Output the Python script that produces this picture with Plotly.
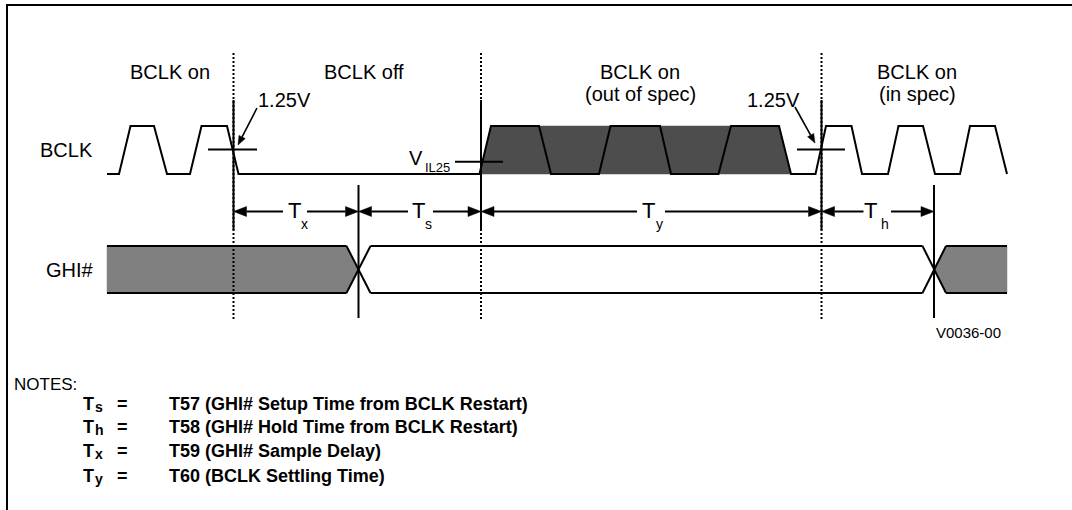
import math
import plotly.graph_objects as go

FONT = "Liberation Sans, Arial, Helvetica, sans-serif"
W, H = 1072, 510

# ---- signal levels (diagram y, top = 0) ----
BCLK_HIGH, BCLK_LOW = 126, 174
GHI_HIGH, GHI_LOW = 246, 293

# ---- BCLK waveform: edge positions and logic level (1 = high, 0 = low) ----
bclk_x = [107, 119, 130.5, 154, 167, 190, 201.5, 227, 238.5, 479.5, 491, 539, 551, 599,
          610.5, 660, 671, 718.5, 731, 779, 791, 815.5, 826, 851.5, 862, 888, 898.5,
          923, 935, 960, 970, 995, 1007]
bclk_lvl = [0, 0, 1, 1, 0, 0, 1, 1, 0, 0, 1, 1, 0, 0,
            1, 1, 0, 0, 1, 1, 0, 0, 1, 1, 0, 0, 1,
            1, 0, 0, 1, 1, 0]

# out-of-spec (shaded) BCLK region
oos_x = [479.5, 491, 779, 791]
oos_lvl = [0, 1, 1, 0]

# ---- GHI# bus ----
ghi_left_x = [107, 346.5, 358.5, 346.5, 107]
ghi_left_lvl = [1, 1, 0.5, 0, 0]
ghi_right_x = [946, 1007, 1007, 946, 934]
ghi_right_lvl = [1, 1, 0, 0, 0.5]
ghi_rail_segments = [(107, 346.5), (370.5, 922.5), (946, 1007)]
ghi_cross = [(346.5, 370.5), (922.5, 946)]

# ---- reference lines ----
phase_bounds = [233.5, 481, 821.5]          # dotted phase boundaries
ghi_edges = [358.5, 934]                    # GHI# transition markers

# ---- timing dimensions ----
dim_names = ["x", "s", "y", "h"]
dim_start = [233.5, 358.5, 481, 821.5]
dim_end = [358.5, 481, 821.5, 934]
dim_gap_l = [283, 408, 637, 863.5]
dim_gap_r = [307, 433, 665, 891]
dim_T_x = [294, 418, 648, 870.5]
dim_sub_x = [304.5, 428, 659, 884.5]
DIM_Y = 211.5

# ---- thresholds ----
thr_x0 = [208, 455, 797]
thr_x1 = [257, 503, 845]
thr_y = [149.5, 161.7, 149.5]

# ---- 1.25V pointer arrows (tail -> head) ----
ptr_tail = [(257, 108), (795, 107)]
ptr_head = [(238, 145), (815, 143)]

# ---- text ----
phase_labels = ["BCLK on", "BCLK off", "BCLK on", "(out of spec)", "BCLK on", "(in spec)"]
phase_label_x = [170, 364, 640, 640, 917, 917]
phase_label_y = [72, 72, 72, 94, 72, 94]

note_syms = ["s", "h", "x", "y"]
note_texts = ["T57 (GHI# Setup Time from BCLK Restart)",
              "T58 (GHI# Hold Time from BCLK Restart)",
              "T59 (GHI# Sample Delay)",
              "T60 (BCLK Settling Time)"]
note_y = [404, 427, 451, 476]


def by(l):
    return BCLK_LOW + (BCLK_HIGH - BCLK_LOW) * l


def gy(l):
    return GHI_LOW + (GHI_HIGH - GHI_LOW) * l


fig = go.Figure()
BLACK = "black"


def line(xs, ys, width=2, dash=None, color=BLACK):
    fig.add_trace(go.Scatter(x=xs, y=ys, mode="lines",
                             line=dict(color=color, width=width, dash=dash),
                             hoverinfo="skip", showlegend=False))


def poly(xs, ys, fill):
    fig.add_trace(go.Scatter(x=list(xs) + [xs[0]], y=list(ys) + [ys[0]], mode="lines",
                             fill="toself", fillcolor=fill, line=dict(width=0.5, color=fill),
                             hoverinfo="skip", showlegend=False))


# frame
line([7, 7, 1072], [510, 5, 5], width=2)

# shaded regions
poly(oos_x, [by(l) for l in oos_lvl], "#4d4d4d")
poly(ghi_left_x, [gy(l) for l in ghi_left_lvl], "#808080")
poly(ghi_right_x, [gy(l) for l in ghi_right_lvl], "#808080")

# dotted phase boundaries + solid reference portions
for xb in phase_bounds:
    line([xb, xb], [53, 320], width=2, dash="2px,2px")
    line([xb, xb], [100, 230], width=2)
for xe in ghi_edges:
    line([xe, xe], [185, 318], width=2)

# BCLK waveform
line(bclk_x, [by(l) for l in bclk_lvl], width=2)

# GHI# rails and crossings
for a, b in ghi_rail_segments:
    line([a, b], [GHI_HIGH, GHI_HIGH])
    line([a, b], [GHI_LOW, GHI_LOW])
for a, b in ghi_cross:
    line([a, b], [GHI_HIGH, GHI_LOW])
    line([a, b], [GHI_LOW, GHI_HIGH])

# thresholds
for a, b, yy in zip(thr_x0, thr_x1, thr_y):
    line([a, b], [yy, yy])

# dimension arrows
HL, HW = 13, 5
for x0, x1, gl, gr in zip(dim_start, dim_end, dim_gap_l, dim_gap_r):
    poly([x0, x0 + HL, x0 + HL], [DIM_Y, DIM_Y - HW, DIM_Y + HW], BLACK)
    poly([x1, x1 - HL, x1 - HL], [DIM_Y, DIM_Y - HW, DIM_Y + HW], BLACK)
    line([x0 + HL, gl], [DIM_Y, DIM_Y])
    line([gr, x1 - HL], [DIM_Y, DIM_Y])

# 1.25V pointers
PL, PW = 9, 3.5
for (tx_, ty_), (hx, hy) in zip(ptr_tail, ptr_head):
    dx, dy = hx - tx_, hy - ty_
    d = math.hypot(dx, dy)
    ux, uy = dx / d, dy / d
    bx, by_ = hx - ux * PL, hy - uy * PL
    line([tx_, bx], [ty_, by_], width=1.6)
    poly([hx, bx - uy * PW, bx + uy * PW], [hy, by_ + ux * PW, by_ - ux * PW], BLACK)

annots = []


def txt(x, y, s, size, xanchor="center", bold=False):
    annots.append(dict(x=x, y=y, xref="x", yref="y", text=s,
                       showarrow=False, xanchor=xanchor, yanchor="middle",
                       font=dict(family=FONT, size=size, color=BLACK,
                                 weight=("bold" if bold else "normal"))))


for s, xx, yy in zip(phase_labels, phase_label_x, phase_label_y):
    txt(xx, yy, s, 20)

txt(66, 150, "BCLK", 20)
txt(70, 270, "GHI#", 20)
txt(284, 100, "1.25V", 20)
txt(773, 100, "1.25V", 20)
txt(416, 158, "V", 20)
txt(437, 167, "IL25", 13)
txt(968, 332, "V0036-00", 15)

for n, tx, sx in zip(dim_names, dim_T_x, dim_sub_x):
    txt(tx, DIM_Y - 1, "T", 22)
    txt(sx, 224, n, 14)

txt(12, 384, "NOTES:", 17, xanchor="left")
for sym, t, yy in zip(note_syms, note_texts, note_y):
    txt(81, yy, "T", 18, xanchor="left", bold=True)
    txt(92.5, yy + 3, sym, 14, xanchor="left", bold=True)
    txt(122, yy, "=", 18, bold=True)
    txt(167, yy, t, 18, xanchor="left", bold=True)

fig.update_layout(
    width=W, height=H, margin=dict(l=0, r=0, t=0, b=0),
    paper_bgcolor="white", plot_bgcolor="white", showlegend=False,
    xaxis=dict(range=[0, W], visible=False, fixedrange=True),
    yaxis=dict(range=[H, 0], visible=False, fixedrange=True),
    annotations=annots,
)

fig.write_html("out.html", config={"displayModeBar": False},
               post_script="document.body.style.margin='0';document.body.style.overflow='hidden';")
